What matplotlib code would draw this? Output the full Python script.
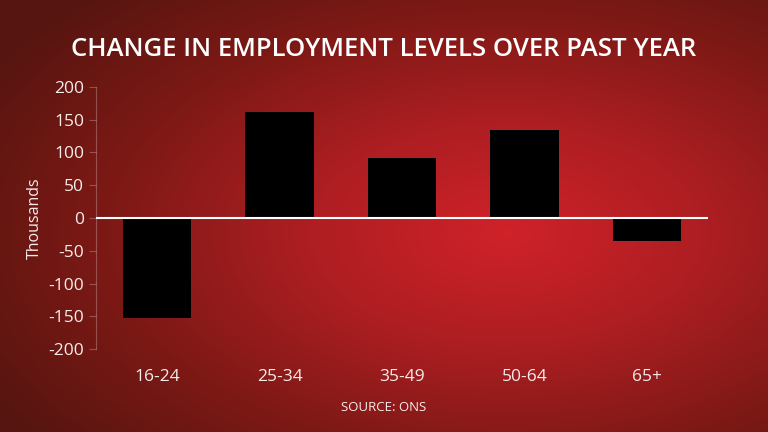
import numpy as np
import matplotlib.pyplot as plt
from matplotlib.colors import LinearSegmentedColormap

categories = ['16-24', '25-34', '35-49', '50-64', '65+']
values = [-153, 162, 92, 134, -35]
yticks = [-200, -150, -100, -50, 0, 50, 100, 150, 200]

plt.rcParams['font.family'] = ['Open Sans', 'DejaVu Sans']
plt.rcParams['axes.unicode_minus'] = False

fig = plt.figure(figsize=(7.68, 4.32), dpi=100)

# radial red background
bg = fig.add_axes([0, 0, 1, 1])
xx, yy = np.meshgrid(np.linspace(0, 1, 400), np.linspace(0, 1, 225))
r = np.sqrt(((xx - 0.66) / 0.78) ** 2 + ((yy - 0.46) / 0.78) ** 2)
cmap = LinearSegmentedColormap.from_list('bg', ['#cf2229', '#ad1e22', '#7d1915', '#561510'])
bg.imshow(np.clip(r, 0, 1), cmap=cmap, extent=[0, 1, 0, 1], aspect='auto', origin='lower')
bg.axis('off')

ax = fig.add_axes([0.125, 0.192, 0.797, 0.607])
ax.patch.set_alpha(0)
x = np.arange(len(categories))
ax.bar(x, values, width=0.56, color='black')
ax.axhline(0, color='white', lw=1.5)
ax.set_xlim(-0.5, 4.5)
ax.set_ylim(-200, 200)
ax.set_yticks(yticks)
ax.set_xticks(x)
ax.set_xticklabels(categories)
for s in ['top', 'right', 'bottom']:
    ax.spines[s].set_visible(False)
ax.spines['left'].set_color((1, 1, 1, 0.25))
ax.spines['left'].set_linewidth(0.8)
ax.tick_params(axis='y', colors=(1, 1, 1, 0.25), labelcolor='#f6ecec', labelsize=12.5, length=5, width=0.8)
ax.tick_params(axis='x', length=0, labelcolor='#f6ecec', labelsize=12.5, pad=14)
ax.set_ylabel('Thousands', color='#f6ecec', fontsize=11.5, labelpad=4)

fig.text(0.5, 0.885, 'CHANGE IN EMPLOYMENT LEVELS OVER PAST YEAR', color='white',
         ha='center', va='center', fontsize=18.5, fontweight='semibold')
fig.text(0.5, 0.057, 'SOURCE: ONS', color='#f6ecec', ha='center', va='center', fontsize=9.5)

fig.savefig('out.png', dpi=100)
